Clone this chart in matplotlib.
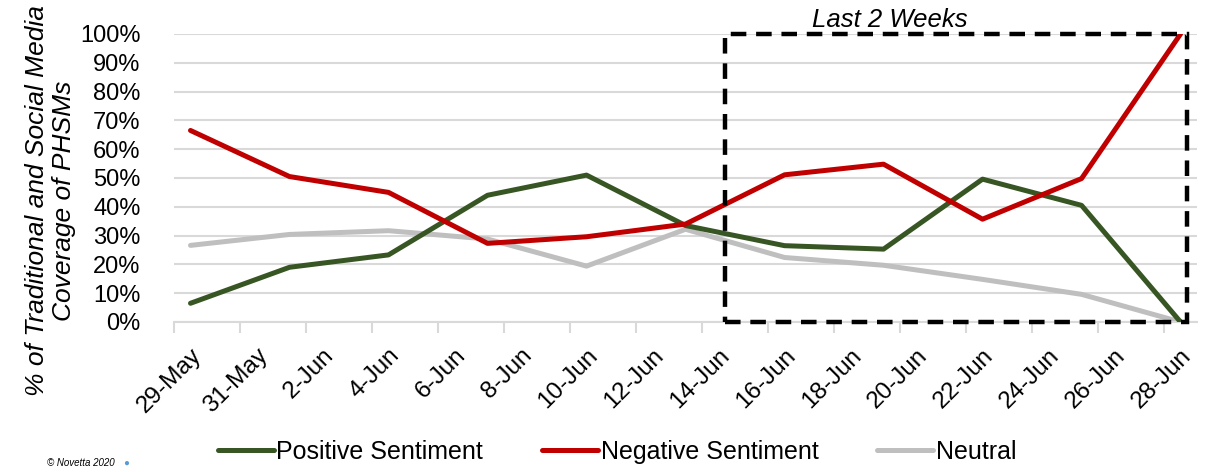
import matplotlib.pyplot as plt
from matplotlib.patches import Rectangle

# days after 29-May, one point every 3 days
days = [0, 3, 6, 9, 12, 15, 18, 21, 24, 27, 30]
positive = [6.5, 19.0, 23.3, 44.0, 51.0, 33.5, 26.5, 25.3, 49.6, 40.5, 0.0]
negative = [66.5, 50.5, 45.0, 27.3, 29.6, 34.0, 51.1, 54.8, 35.7, 49.8, 100.0]
neutral = [26.6, 30.4, 31.7, 28.8, 19.4, 32.2, 22.4, 19.7, 14.8, 9.6, 0.0]

tick_days = list(range(0, 31, 2))
tick_labels = ['29-May', '31-May', '2-Jun', '4-Jun', '6-Jun', '8-Jun', '10-Jun', '12-Jun',
               '14-Jun', '16-Jun', '18-Jun', '20-Jun', '22-Jun', '24-Jun', '26-Jun', '28-Jun']

plt.rcParams['font.family'] = ['Liberation Sans', 'DejaVu Sans']

fig = plt.figure(figsize=(12.05, 4.72), dpi=100)
ax = fig.add_axes([0.1444, 0.3178, 0.849, 0.6102])

lw = 3.6
ax.plot(days, positive, color='#375623', lw=lw, label='Positive Sentiment', solid_capstyle='round', zorder=3)
ax.plot(days, negative, color='#C00000', lw=lw, label='Negative Sentiment', solid_capstyle='round', zorder=3)
ax.plot(days, neutral, color='#BFBFBF', lw=lw, label='Neutral', solid_capstyle='round', zorder=2)

ax.set_xlim(-0.5, 30.5)
ax.set_ylim(0, 100)
ax.set_yticks(range(0, 101, 10))
ax.set_yticklabels([f'{v}%' for v in range(0, 101, 10)], fontsize=17)
ax.grid(axis='y', color='#d9d9d9', lw=1.5)
ax.set_axisbelow(True)

ax.set_xticks(tick_days)
ax.set_xticklabels(tick_labels, rotation=45, ha='right', rotation_mode='anchor', fontsize=17.5)
ax.set_xticks([d - 0.5 for d in tick_days], minor=True)
ax.tick_params(axis='x', which='major', length=0, pad=16)
ax.tick_params(axis='x', which='minor', length=8, width=1.5, color='#d9d9d9')
ax.tick_params(axis='y', length=0, pad=24)

for s in ['top', 'right', 'left']:
    ax.spines[s].set_visible(False)
ax.spines['bottom'].set_color('#d9d9d9')
ax.spines['bottom'].set_linewidth(1.5)

ax.set_ylabel('% of Traditional and Social Media\nCoverage of PHSMs', fontsize=19,
              style='italic', linespacing=1.15)
ax.yaxis.set_label_coords(-0.096, 0.42)

# last two weeks box
box = Rectangle((16.2, 0), 14.0, 100, fill=False, ec='black', lw=3.2,
                ls=(0, (3.5, 2.2)), clip_on=False, zorder=4)
ax.add_patch(box)
ax.text(21.2, 100.8, 'Last 2 Weeks', ha='center', va='bottom', fontsize=18.5, style='italic')

fig.legend(loc='center', bbox_to_anchor=(0.512, 0.042), ncol=3, frameon=False,
           fontsize=18, handlelength=2.25, columnspacing=2.35, handletextpad=0.1)

fig.text(0.039, 0.012, '© Novetta 2020', fontsize=7, style='italic')
fig.text(0.102, 0.014, '●', fontsize=7, color='#5b9bd5')

fig.savefig('out.png', dpi=100)
